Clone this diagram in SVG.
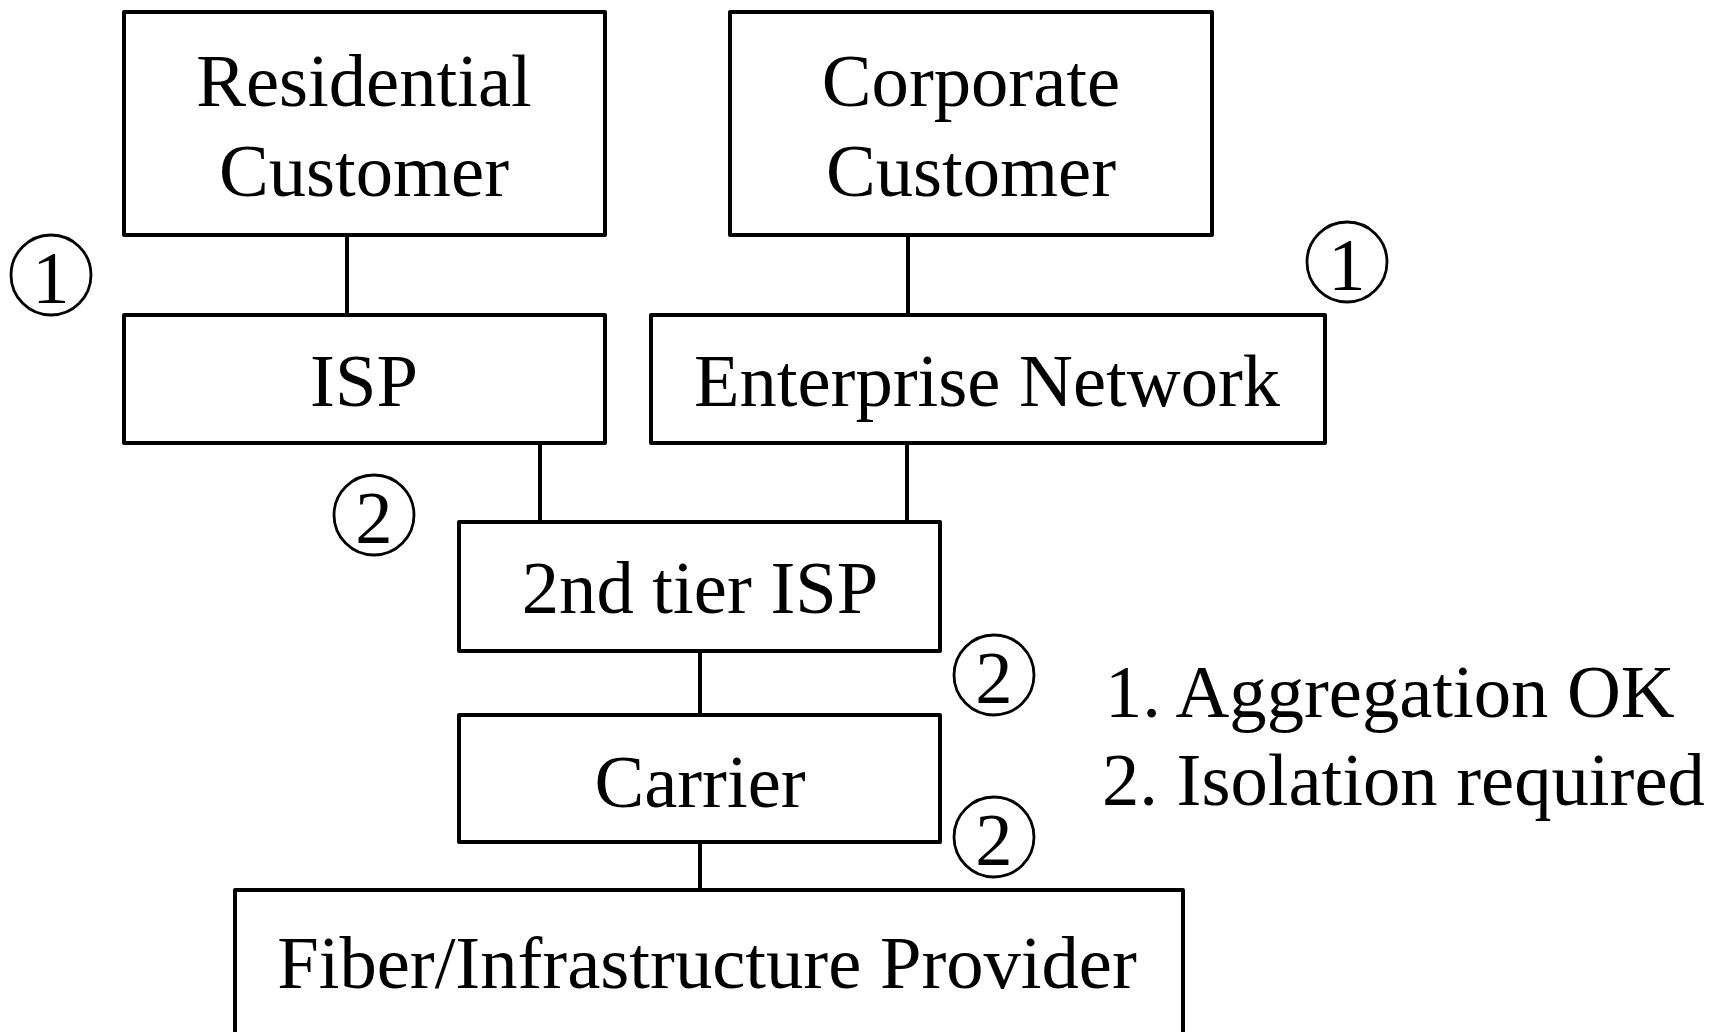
<svg xmlns="http://www.w3.org/2000/svg" width="1719" height="1032" viewBox="0 0 1719 1032">
  <style>
    .box { fill: #ffffff; stroke: #000000; stroke-width: 4; stroke-linejoin: round; }
    .link { stroke: #000000; stroke-width: 4; fill: none; }
    .mark { fill: none; stroke: #000000; stroke-width: 2.8; }
    text { font-family: "Liberation Serif", "Times New Roman", serif; font-size: 74.6px; fill: #000000; }
    .c { text-anchor: middle; }
  </style>
  <rect x="0" y="0" width="1719" height="1032" fill="#ffffff"/>

  <!-- connectors -->
  <g id="connectors">
    <line class="link" x1="347" y1="235" x2="347" y2="315"/>
    <line class="link" x1="908" y1="235" x2="908" y2="315"/>
    <line class="link" x1="540" y1="443" x2="540" y2="522"/>
    <line class="link" x1="907" y1="443" x2="907" y2="522"/>
    <line class="link" x1="700" y1="651" x2="700" y2="715"/>
    <line class="link" x1="700" y1="842" x2="700" y2="890"/>
  </g>

  <g id="residential-customer">
    <rect class="box" x="124" y="12" width="481" height="223"/>
    <text class="c" x="364" y="106">Residential</text>
    <text class="c" x="364" y="196">Customer</text>
  </g>

  <g id="corporate-customer">
    <rect class="box" x="730" y="12" width="482" height="223"/>
    <text class="c" x="971" y="106">Corporate</text>
    <text class="c" x="971" y="196">Customer</text>
  </g>

  <g id="isp">
    <rect class="box" x="124" y="315" width="481" height="128"/>
    <text class="c" x="364" y="406">ISP</text>
  </g>

  <g id="enterprise-network">
    <rect class="box" x="651" y="315" width="674" height="128"/>
    <text class="c" x="987" y="406">Enterprise Network</text>
  </g>

  <g id="second-tier-isp">
    <rect class="box" x="459" y="522" width="481" height="129"/>
    <text class="c" x="700" y="613">2nd tier ISP</text>
  </g>

  <g id="carrier">
    <rect class="box" x="459" y="715" width="481" height="127"/>
    <text class="c" x="700" y="807">Carrier</text>
  </g>

  <g id="fiber-provider">
    <rect class="box" x="235" y="890" width="948" height="160"/>
    <text class="c" x="707" y="988">Fiber/Infrastructure Provider</text>
  </g>

  <!-- numbered markers -->
  <g id="mark-residential">
    <circle class="mark" cx="51" cy="275" r="40"/>
    <text class="c" x="51" y="303">1</text>
  </g>
  <g id="mark-corporate">
    <circle class="mark" cx="1347" cy="262" r="40"/>
    <text class="c" x="1347" y="290">1</text>
  </g>
  <g id="mark-isp">
    <circle class="mark" cx="374" cy="515" r="40"/>
    <text class="c" x="374" y="543">2</text>
  </g>
  <g id="mark-second-tier">
    <circle class="mark" cx="994" cy="675" r="40"/>
    <text class="c" x="994" y="703">2</text>
  </g>
  <g id="mark-carrier">
    <circle class="mark" cx="994" cy="837" r="40"/>
    <text class="c" x="994" y="865">2</text>
  </g>

  <g id="legend">
    <text x="1105" y="717">1. Aggregation OK</text>
    <text x="1102" y="805">2. Isolation required</text>
  </g>
</svg>
